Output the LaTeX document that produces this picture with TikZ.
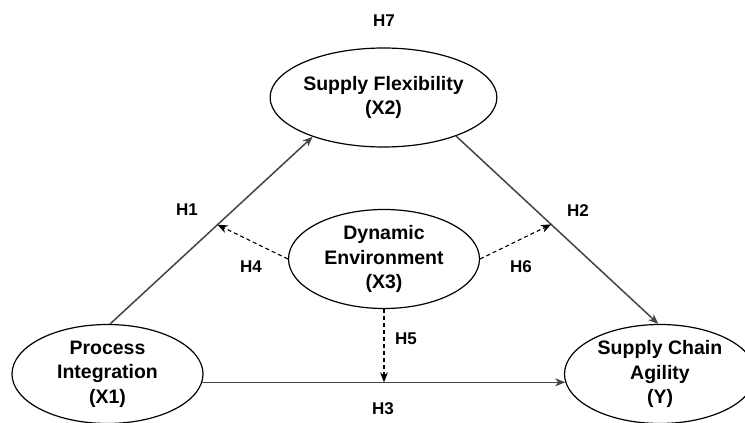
\documentclass[tikz,border=0pt]{standalone}
\usepackage{fontspec}
\setmainfont{Liberation Sans}
\usetikzlibrary{shapes.geometric,arrows.meta,calc}
\definecolor{linegray}{HTML}{444444}
\begin{document}
\begin{tikzpicture}[x=1pt,y=-1pt,
  construct/.style={ellipse,draw=black,line width=1.2pt,minimum width=191pt,minimum height=99pt,inner sep=0pt,align=center,font=\bfseries\fontsize{19.5}{24.5}\selectfont},
  hlabel/.style={inner sep=0pt,font=\bfseries\fontsize{17}{19}\selectfont},
  solidarrow/.style={draw=linegray,line width=1.5pt,-{Stealth[length=10pt,width=8pt,inset=3pt]}},
  dasharrow/.style={draw=black,line width=1.1pt,dashed,dash pattern=on 4pt off 3pt,-{Stealth[length=10pt,width=8pt,inset=3pt]}}]
\clip (0,0) rectangle (745,423);
\fill[white] (0,0) rectangle (745,423);
\node[construct] (x2) at (383.5,97.5) {Supply Flexibility\\(X2)};
\node[construct] (x3) at (384,259) {Dynamic\\Environment\\(X3)};
\node[construct] (x1) at (107.5,374) {Process\\Integration\\(X1)};
\node[construct] (y) at (660,374) {Supply Chain\\Agility\\(Y)};
% solid paths
\draw[solidarrow] (x1.87) -- (x2.209);
\draw[solidarrow] (x2.332) -- (y.92);
\draw[solidarrow] (x1.-5) -- (y.185);
% points on paths
\coordinate (m1) at ($(x1.87)!0.53!(x2.209)$);
\coordinate (m2) at ($(x2.332)!0.47!(y.92)$);
\coordinate (m3) at (x3.south |- x1.-5);
\draw[dasharrow] (x3.west) -- (m1);
\draw[dasharrow] (x3.east) -- (m2);
\draw[dasharrow] (x3.south) -- (m3);
% labels
\node[hlabel] (h7) at (384,21) {H7};
\node[hlabel] (h1) at (187,210) {H1};
\node[hlabel] (h2) at (578,211) {H2};
\node[hlabel] (h4) at (251,267) {H4};
\node[hlabel] (h6) at (521,267) {H6};
\node[hlabel] (h5) at (406,339) {H5};
\node[hlabel] (h3) at (383,409) {H3};
\end{tikzpicture}
\end{document}
